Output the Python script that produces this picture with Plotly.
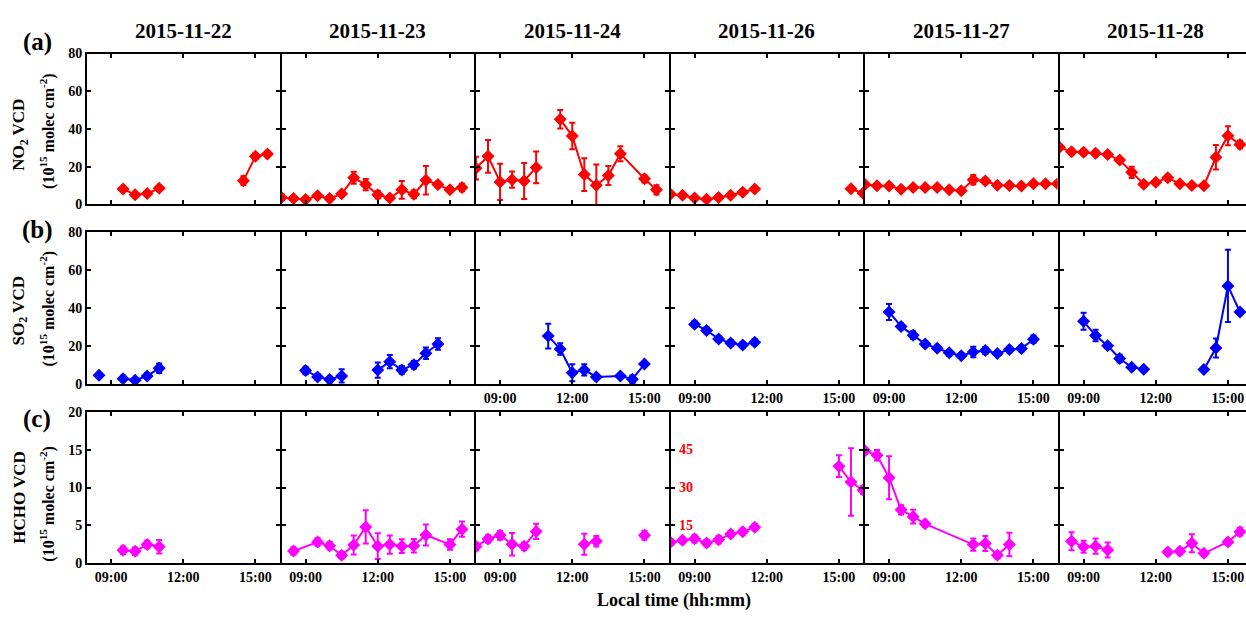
import plotly.graph_objects as go

# ---------------- data ----------------
DAYS = ["2015-11-22", "2015-11-23", "2015-11-24", "2015-11-26", "2015-11-27", "2015-11-28"]
TICK_HOURS = [9, 12, 15]
TICK_TEXT = ["09:00", "12:00", "15:00"]
NO2_TICKS = [0, 20, 40, 60, 80]
SO2_TICKS = [0, 20, 40, 60, 80]
HCHO_TICKS = [0, 5, 10, 15, 20]
HCHO_1126_TICKS = [0, 15, 30, 45, 60]          # own 0-60 scale used on 2015-11-26
HCHO_1126_LABELS = [15, 30, 45]

# None marks a break in the measurement series (line is not drawn across it)
# NO2 VCD (1e15 molec cm-2)
no2_t_1122 = ["09:30", "10:00", "10:30", "11:00", None, "14:30", "15:00", "15:30"]
no2_v_1122 = [8.2, 5.1, 5.8, 8.5, None, 12.6, 25.5, 26.7]
no2_e_1122 = [1.2, 1.0, 1.0, 1.2, None, 2.3, 1.5, 1.2]

no2_t_1123 = ["08:00", "08:30", "09:00", "09:30", "10:00", "10:30", "11:00", "11:30",
              "12:00", "12:30", "13:00", "13:30", "14:00", "14:30", "15:00", "15:30"]
no2_v_1123 = [3.7, 3.1, 2.6, 4.6, 3.1, 5.6, 14.1, 10.5, 5.1, 3.4, 7.7, 5.4, 12.8, 10.5, 7.7, 9.0]
no2_e_1123 = [1.5, 1.0, 1.5, 1.0, 1.5, 1.0, 3.2, 3.0, 2.0, 1.0, 4.7, 2.0, 7.6, 1.5, 1.0, 2.0]

no2_t_1124 = ["08:00", "08:30", "09:00", "09:30", "10:00", "10:30", None, "11:30", "12:00",
              "12:30", "13:00", "13:30", "14:00", "15:00", "15:30"]
no2_v_1124 = [19.2, 25.5, 11.9, 13.1, 12.4, 19.6, None, 45.1, 36.3, 15.8, 10.2, 15.3, 26.9, 13.6, 7.7]
no2_e_1124 = [6.0, 8.7, 9.6, 4.3, 9.5, 8.4, None, 4.9, 7.0, 8.7, 11.0, 5.0, 4.0, 2.0, 2.5]

no2_t_1126 = ["08:00", "08:30", "09:00", "09:30", "10:00", "10:30", "11:00", "11:30", None, "15:30", "16:00"]
no2_v_1126 = [5.4, 4.9, 3.4, 2.7, 3.7, 4.8, 6.4, 8.2, None, 8.3, 5.9]
no2_e_1126 = [1.0, 1.0, 1.0, 1.0, 1.0, 1.0, 1.0, 1.0, None, 1.0, 1.0]

no2_t_1127 = ["08:00", "08:30", "09:00", "09:30", "10:00", "10:30", "11:00", "11:30", "12:00",
              "12:30", "13:00", "13:30", "14:00", "14:30", "15:00", "15:30", "16:00"]
no2_v_1127 = [10.5, 9.9, 9.7, 8.0, 9.0, 9.0, 9.0, 7.7, 7.2, 13.1, 12.4, 10.2, 10.0, 9.7, 11.0, 11.0, 11.0]
no2_e_1127 = [1.2, 1.0, 1.0, 1.0, 1.0, 1.0, 1.0, 1.0, 1.0, 2.5, 1.5, 1.0, 1.0, 1.0, 1.0, 1.0, 1.2]

no2_t_1128 = ["08:00", "08:30", "09:00", "09:30", "10:00", "10:30", "11:00", "11:30",
              "12:00", "12:30", "13:00", "13:30", "14:00", "14:30", "15:00", "15:30"]
no2_v_1128 = [30.3, 27.9, 27.6, 27.1, 26.4, 23.5, 17.0, 10.7, 11.7, 14.1, 10.9, 10.0, 9.9, 25.0, 36.4, 31.8]
no2_e_1128 = [1.0, 1.5, 1.5, 1.5, 1.0, 1.0, 3.0, 1.5, 1.0, 1.5, 1.0, 1.0, 1.0, 6.5, 5.0, 2.0]

# SO2 VCD (1e15 molec cm-2)
so2_t_1122 = ["08:30", None, "09:30", "10:00", "10:30", "11:00"]
so2_v_1122 = [4.8, None, 3.0, 2.2, 4.4, 8.5]
so2_e_1122 = [0.8, None, 1.5, 1.0, 1.5, 2.5]

so2_t_1123 = ["09:00", "09:30", "10:00", "10:30", None, "12:00", "12:30", "13:00", "13:30", "14:00", "14:30"]
so2_v_1123 = [7.3, 3.9, 2.5, 4.4, None, 7.5, 11.9, 7.6, 10.3, 16.4, 21.2]
so2_e_1123 = [2.0, 1.5, 1.5, 3.5, None, 4.0, 3.5, 2.0, 2.0, 3.0, 3.0]

so2_t_1124 = ["11:00", "11:30", "12:00", "12:30", "13:00", "14:00", "14:30", "15:00"]
so2_v_1124 = [25.4, 18.6, 6.1, 7.6, 3.9, 4.4, 2.7, 10.7]
so2_e_1124 = [6.5, 3.0, 4.5, 3.0, 1.0, 1.0, 2.0, 1.0]

so2_t_1126 = ["09:00", "09:30", "10:00", "10:30", "11:00", "11:30"]
so2_v_1126 = [31.7, 28.4, 23.9, 21.7, 20.7, 22.2]
so2_e_1126 = [1.5, 1.5, 1.5, 1.5, 1.5, 1.5]

so2_t_1127 = ["09:00", "09:30", "10:00", "10:30", "11:00", "11:30", "12:00",
              "12:30", "13:00", "13:30", "14:00", "14:30", "15:00"]
so2_v_1127 = [38.1, 30.5, 25.9, 21.2, 19.0, 16.6, 15.1, 17.0, 17.8, 16.2, 18.3, 18.8, 23.7]
so2_e_1127 = [4.2, 1.5, 2.0, 1.5, 1.5, 1.5, 1.2, 2.8, 1.8, 1.2, 1.5, 1.5, 2.0]

so2_t_1128 = ["09:00", "09:30", "10:00", "10:30", "11:00", "11:30", None, "14:00", "14:30", "15:00", "15:30"]
so2_v_1128 = [33.2, 25.7, 20.3, 13.6, 9.0, 8.0, None, 7.8, 19.1, 51.8, 38.1]
so2_e_1128 = [4.5, 3.0, 1.5, 2.0, 1.0, 1.0, None, 1.0, 5.0, 19.0, 1.5]

# HCHO VCD (1e15 molec cm-2); 2015-11-26 is on its own 0-60 scale
hcho_t_1122 = ["09:30", "10:00", "10:30", "11:00"]
hcho_v_1122 = [1.7, 1.57, 2.46, 2.17]
hcho_e_1122 = [0.5, 0.5, 0.5, 0.9]

hcho_t_1123 = ["08:30", "09:30", "10:00", "10:30", "11:00", "11:30", "12:00",
               "12:30", "13:00", "13:30", "14:00", "15:00", "15:30"]
hcho_v_1123 = [1.6, 2.8, 2.3, 1.06, 2.4, 4.8, 2.25, 2.46, 2.25, 2.3, 3.73, 2.46, 4.5]
hcho_e_1123 = [0.5, 0.5, 0.5, 0.4, 1.25, 2.2, 1.7, 1.2, 0.9, 0.9, 1.4, 0.7, 1.0]

hcho_t_1124 = ["08:00", "08:30", "09:00", "09:30", "10:00", "10:30", None, "12:30", "13:00", None, "15:00"]
hcho_v_1124 = [2.2, 3.2, 3.7, 2.5, 2.25, 4.2, None, 2.5, 2.9, None, 3.7]
hcho_e_1124 = [0.5, 0.5, 0.6, 1.5, 0.5, 1.0, None, 1.4, 0.7, None, 0.6]

hcho_t_1126 = ["08:00", "08:30", "09:00", "09:30", "10:00", "10:30", "11:00", "11:30",
               None, "15:00", "15:30", "16:00"]
hcho_v_1126 = [8.3, 9.1, 9.7, 8.0, 9.3, 11.6, 12.5, 14.3, None, 38.5, 32.2, 29.0]
hcho_e_1126 = [1.2, 1.2, 1.5, 1.2, 1.5, 1.2, 1.2, 1.2, None, 4.3, 13.4, 1.5]

hcho_t_1127 = ["08:00", "08:30", "09:00", "09:30", "10:00", "10:30", "12:30", "13:00", "13:30", "14:00"]
hcho_v_1127 = [14.86, 14.27, 11.3, 7.05, 6.15, 5.2, 2.46, 2.6, 1.06, 2.46]
hcho_e_1127 = [0.4, 0.7, 2.85, 0.6, 0.9, 0.4, 0.8, 1.0, 0.4, 1.55]

hcho_t_1128 = ["08:30", "09:00", "09:30", "10:00", None, "12:30", "13:00", "13:30", "14:00", "15:00", "15:30"]
hcho_v_1128 = [2.9, 2.17, 2.25, 1.74, None, 1.49, 1.57, 2.64, 1.31, 2.8, 4.17]
hcho_e_1128 = [1.2, 0.8, 1.0, 1.0, None, 0.4, 0.4, 1.2, 0.3, 0.4, 0.5]

ROW_LABELS = ["(a)", "(b)", "(c)"]
ROW_TITLES_1 = ["NO<sub>2</sub> VCD", "SO<sub>2</sub> VCD", "HCHO VCD"]
ROW_TITLE_2 = "(10<sup>15</sup> molec cm<sup>-2</sup>)"
X_TITLE = "Local time (hh:mm)"

# ---------------- layout geometry ----------------
W, H = 1246, 619
FONT = "Times New Roman, Liberation Serif, serif"
COLORS = ["#ff0000", "#0000ff", "#ff00ff"]
LW = 2                               # frame line width; lines sit just outside the plot area

X0, PW = 86.0, 194.5                 # centre of first panel border and panel pitch (px)
ROWS_PX = [(46.7, 203.3), (230.0, 387.7), (414.0, 571.0)]
Y_RANGES = [[0, 80], [0, 80], [0, 20]]
Y_TICKS = [NO2_TICKS, SO2_TICKS, HCHO_TICKS]


def hours(ts):
    out = []
    for t in ts:
        if t is None:
            out.append(None)
        else:
            h, m = t.split(":")
            out.append(int(h) + int(m) / 60.0)
    return out


series = [
    [(no2_t_1122, no2_v_1122, no2_e_1122), (no2_t_1123, no2_v_1123, no2_e_1123),
     (no2_t_1124, no2_v_1124, no2_e_1124), (no2_t_1126, no2_v_1126, no2_e_1126),
     (no2_t_1127, no2_v_1127, no2_e_1127), (no2_t_1128, no2_v_1128, no2_e_1128)],
    [(so2_t_1122, so2_v_1122, so2_e_1122), (so2_t_1123, so2_v_1123, so2_e_1123),
     (so2_t_1124, so2_v_1124, so2_e_1124), (so2_t_1126, so2_v_1126, so2_e_1126),
     (so2_t_1127, so2_v_1127, so2_e_1127), (so2_t_1128, so2_v_1128, so2_e_1128)],
    [(hcho_t_1122, hcho_v_1122, hcho_e_1122), (hcho_t_1123, hcho_v_1123, hcho_e_1123),
     (hcho_t_1124, hcho_v_1124, hcho_e_1124), (hcho_t_1126, hcho_v_1126, hcho_e_1126),
     (hcho_t_1127, hcho_v_1127, hcho_e_1127), (hcho_t_1128, hcho_v_1128, hcho_e_1128)],
]

fig = go.Figure()
layout = {}
tick_font = dict(family=FONT, size=14, color="black", weight="bold")
half = LW / 2.0
px_per_h = (PW - LW) / 8.0
panel_ids = {}

for r in range(3):
    top, bot = ROWS_PX[r]
    ydom = [1 - (bot - half) / H, 1 - (top + half) / H]
    for c in range(6):
        idx = r * 6 + c + 1
        if r == 2 and c == 3:
            idx = 19                 # the 0-60 HCHO panel gets its own axis pair
        panel_ids[(r, c)] = idx
        last = c == 5
        left = X0 + PW * c + half
        right = min(X0 + PW * (c + 1) - half, W)
        x_end = 8 + (right - left) / px_per_h
        show_xlabels = (r == 2) or (r == 1 and c >= 2)

        layout[f"xaxis{idx}"] = dict(
            domain=[left / W, right / W], anchor=f"y{idx}", range=[8, x_end],
            tickmode="array", tickvals=TICK_HOURS, ticktext=TICK_TEXT,
            showticklabels=show_xlabels, visible=True,
            ticks="inside", ticklen=4, tickwidth=2, tickcolor="black",
            showline=True, linecolor="black", linewidth=LW, mirror="ticks",
            showgrid=False, zeroline=False, tickfont=tick_font, fixedrange=True,
        )
        yax = dict(
            domain=ydom, anchor=f"x{idx}", range=Y_RANGES[r], tickmode="array",
            tickvals=Y_TICKS[r], showticklabels=(c == 0), visible=True,
            ticks="inside", ticklen=4, tickwidth=2, tickcolor="black",
            showline=True, linecolor="black", linewidth=LW,
            mirror=False if last else "ticks",
            showgrid=False, zeroline=False, tickfont=tick_font, fixedrange=True,
        )
        if r == 2 and c == 3:
            yax.update(range=[0, 60], tickvals=HCHO_1126_TICKS)
        layout[f"yaxis{idx}"] = yax

        t, v, e = series[r][c]
        fig.add_trace(go.Scatter(
            x=hours(t), y=v, xaxis=f"x{idx}", yaxis=f"y{idx}",
            mode="lines+markers", connectgaps=False,
            line=dict(color=COLORS[r], width=2),
            marker=dict(symbol="diamond", size=10, color=COLORS[r]),
            error_y=dict(type="data", array=e, visible=True, color=COLORS[r],
                         thickness=2, width=3),
            showlegend=False, hoverinfo="x+y",
        ))

annotations = []
# red scale labels inside the 2015-11-26 HCHO panel, placed on its own axis
hid = panel_ids[(2, 3)]
for val in HCHO_1126_LABELS:
    annotations.append(dict(
        x=0, y=val, xref=f"x{hid} domain", yref=f"y{hid}", text=str(val), showarrow=False,
        xanchor="left", yanchor="middle", xshift=6,
        font=dict(family=FONT, size=14, color="#ff0000", weight="bold"),
    ))

# day titles
for c, d in enumerate(DAYS):
    cx = X0 + PW * c + PW / 2
    annotations.append(dict(
        x=cx / W, y=1 - 24.5 / H, xref="paper", yref="paper", text=d, showarrow=False,
        xanchor="center", yanchor="middle",
        font=dict(family=FONT, size=21, color="black", weight="bold"),
    ))

LABEL_Y = [36, 229, 422]
TITLE1_Y = [131, 311, 502]
TITLE2_Y = [127, 309, 509]
for r in range(3):
    annotations.append(dict(
        x=37 / W, y=1 - LABEL_Y[r] / H, xref="paper", yref="paper", text=ROW_LABELS[r],
        showarrow=False, xanchor="center", yanchor="middle",
        font=dict(family=FONT, size=25, color="black", weight="bold"),
    ))
    annotations.append(dict(
        x=20 / W, y=1 - TITLE1_Y[r] / H, xref="paper", yref="paper", text=ROW_TITLES_1[r],
        showarrow=False, xanchor="center", yanchor="middle", textangle=-90,
        font=dict(family=FONT, size=17, color="black", weight="bold"),
    ))
    annotations.append(dict(
        x=48 / W, y=1 - TITLE2_Y[r] / H, xref="paper", yref="paper", text=ROW_TITLE_2,
        showarrow=False, xanchor="center", yanchor="middle", textangle=-90,
        font=dict(family=FONT, size=16, color="black", weight="bold"),
    ))

annotations.append(dict(
    x=674 / W, y=1 - 608 / H, xref="paper", yref="paper", text=X_TITLE, showarrow=False,
    xanchor="center", yanchor="middle",
    font=dict(family=FONT, size=18, color="black", weight="bold"),
))

fig.update_layout(
    width=W, height=H, margin=dict(l=0, r=0, t=0, b=0),
    paper_bgcolor="white", plot_bgcolor="white",
    annotations=annotations, **layout,
)

fig.write_html("out.html", include_plotlyjs=True, config={"displayModeBar": False})
